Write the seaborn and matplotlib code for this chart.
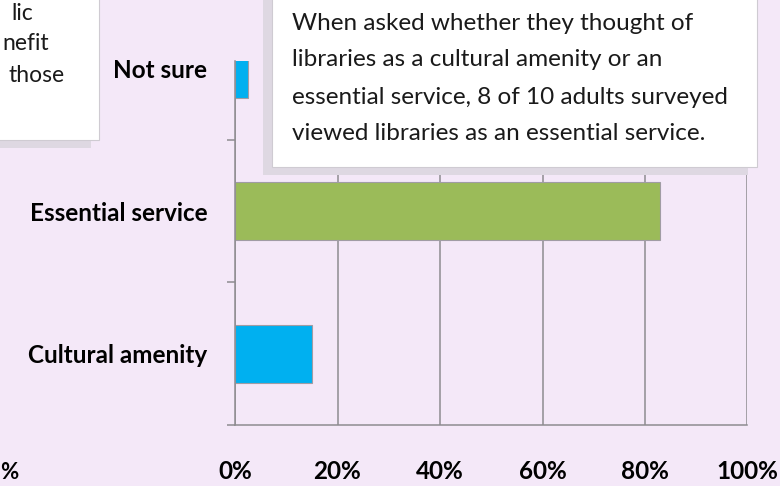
import matplotlib
matplotlib.use("Agg")
import matplotlib.pyplot as plt
import seaborn as sns
from matplotlib.patches import Rectangle
from matplotlib.ticker import FixedLocator, FuncFormatter

# ----------------------------
# DATA
# ----------------------------
categories = ["Not sure", "Essential service", "Cultural amenity"]
shares = [2.5, 83, 15]
bar_colors = ["#00B0F0", "#9BBB59", "#00B0F0"]
x_ticks = [0, 20, 40, 60, 80, 100]

callout_lines = [
    "When asked whether they thought of",
    "libraries as a cultural amenity or an",
    "essential service, 8 of 10 adults surveyed",
    "viewed libraries as an essential service.",
]
# only the right ends of the neighbouring box's lines are in view
left_box_lines = ["lic", "nefit", "those"]

# ----------------------------
# STYLE
# ----------------------------
BG = "#F4E8F8"
GRID = "#8E8C90"
SHADOW = "#DED8E2"
W, H = 780, 486

sns.set_theme(style="white")
plt.rcParams["font.family"] = ["Lato", "DejaVu Sans"]

fig = plt.figure(figsize=(W / 100, H / 100), dpi=100, facecolor=BG)
# plot area in pixels: left 235, right 747.5, top 61, bottom 425
ax = fig.add_axes([235 / W, (H - 425) / H, 512.5 / W, 364 / H])
ax.set_facecolor(BG)

sns.barplot(x=shares, y=categories, hue=categories, palette=bar_colors,
            legend=False, orient="h", width=0.41, edgecolor="#A09CA4",
            linewidth=0.8, saturation=1, ax=ax)

ax.set_xlim(0, 100)
ax.set_ylim(2.5, -0.054)
ax.set_xlabel("")
ax.set_ylabel("")

ax.xaxis.set_major_locator(FixedLocator(x_ticks))
ax.xaxis.set_major_formatter(FuncFormatter(lambda v, p: f"{v:.0f}%"))
ax.set_axisbelow(True)
ax.grid(axis="x", color=GRID, linewidth=1.1)
ax.grid(axis="y", visible=False)

for s in ["top", "right"]:
    ax.spines[s].set_visible(False)
for s in ["left", "bottom"]:
    ax.spines[s].set_color(GRID)
    ax.spines[s].set_linewidth(1.1)

ax.tick_params(axis="x", which="major", direction="out", length=7.2, width=1.1,
               color=GRID, pad=18, labelsize=17.5, labelcolor="black")
ax.yaxis.set_minor_locator(FixedLocator([0.5, 1.5, 2.5]))
ax.tick_params(axis="y", which="minor", direction="out", length=5.8, width=1.1,
               color=GRID, left=True)
ax.tick_params(axis="y", which="major", length=0, pad=20, labelsize=17.5,
               labelcolor="black")
for lab in ax.get_xticklabels() + ax.get_yticklabels():
    lab.set_fontweight("bold")

# ----------------------------
# text boxes (in pixel coords)
# ----------------------------
def px_rect(x0, y0, x1, y1, **kw):
    r = Rectangle((x0 / W, 1 - y1 / H), (x1 - x0) / W, (y1 - y0) / H,
                  transform=fig.transFigure, **kw)
    fig.patches.append(r)

# left box, cut by the picture edge
px_rect(-20, -20, 91, 148, facecolor=SHADOW, edgecolor="none", zorder=5)
px_rect(-10, -20, 99, 140, facecolor="white", edgecolor="#CFCBD2",
        linewidth=0.8, zorder=6)
for y, (txt, xr) in zip([14, 44, 76], zip(left_box_lines, [33, 49, 65])):
    fig.text(xr / W, 1 - y / H, txt, ha="right", va="center", fontsize=16.5,
             color="#1a1a1a", zorder=7)

# callout box
px_rect(263, -20, 748, 175, facecolor=SHADOW, edgecolor="none", zorder=5)
px_rect(272, -20, 757, 167, facecolor="white", edgecolor="#CFCBD2",
        linewidth=0.8, zorder=6)
for i, txt in enumerate(callout_lines):
    fig.text(292 / W, 1 - (23 + i * 37) / H, txt, ha="left", va="center",
             fontsize=17.5, color="#1a1a1a", zorder=7)

# stray axis label from the neighbouring chart
fig.text(0, 1 - 472 / H, "%", ha="left", va="center", fontsize=16,
         fontweight="bold", color="black")

fig.savefig("out.png", dpi=100, facecolor=BG)
